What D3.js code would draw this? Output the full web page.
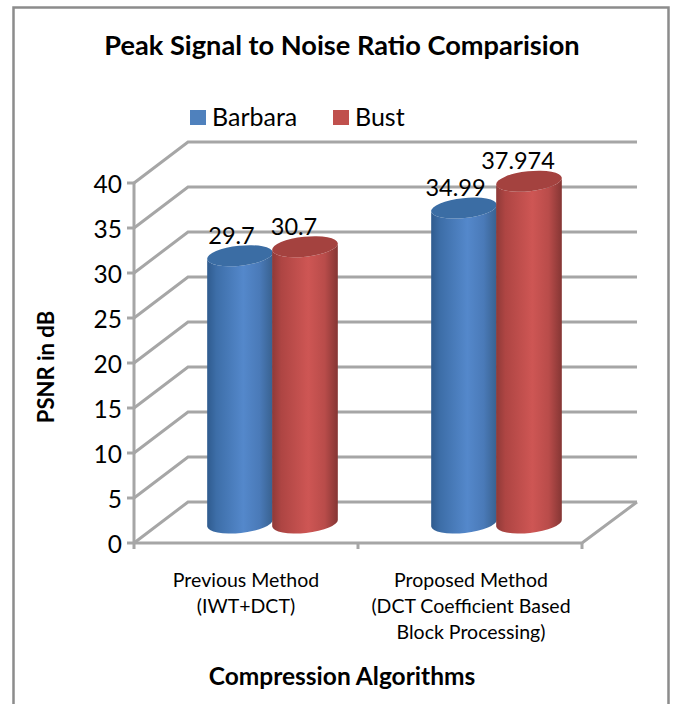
<!DOCTYPE html>
<html><head><meta charset="utf-8">
<script src="https://cdn.jsdelivr.net/npm/d3@7"></script>
<style>html,body{margin:0;padding:0;background:#fff}svg{display:block}text{font-family:Lato,sans-serif;fill:#000}</style>
</head><body><svg id="c" width="676" height="704"></svg>
<script>
const categories=[["Previous Method","(IWT+DCT)"],["Proposed Method","(DCT Coefficient Based","Block Processing)"]];
const seriesNames=["Barbara","Bust"];
const barbara=[29.7,34.99];
const bust=[30.7,37.974];
const barbaraLabels=["29.7","34.99"];
const bustLabels=["30.7","37.974"];
const yTicks=[0,5,10,15,20,25,30,35,40];
const title="Peak Signal to Noise Ratio Comparision";
const xTitle="Compression Algorithms";
const yTitle="PSNR in dB";

const svg=d3.select("#c");
const dx=54,dy=-41,grid="#a6a6a6";
const y=d3.scaleLinear().domain([0,40]).range([543,183]);
const x=d3.scaleBand().domain([0,1]).range([134,582]);
const inner=d3.scaleBand().domain([0,1]).range([0,130]);

const defs=svg.append("defs");
function grad(id,stops){
  const g=defs.append("linearGradient").attr("id",id).attr("x1",0).attr("x2",1).attr("y1",0).attr("y2",0);
  stops.forEach(s=>g.append("stop").attr("offset",s[0]).attr("stop-color",s[1]));
}
grad("gb",[[0,"#2f5b8e"],[.14,"#3d6ea8"],[.55,"#5488cb"],[.8,"#4a7ab8"],[1,"#38618f"]]);
grad("gr",[[0,"#8f3a38"],[.14,"#ae4543"],[.55,"#ce5654"],[.8,"#b94c4a"],[1,"#853634"]]);

// frame
svg.append("path").attr("d","M13.5,704V7.5H668.5V704").attr("fill","none").attr("stroke","#8c8c8c").attr("stroke-width",2.5);

// gridlines and side wall
const g=svg.append("g").attr("fill","none").attr("stroke",grid).attr("stroke-width",3);
yTicks.forEach(t=>{
  const p=d3.path();
  p.moveTo(134,y(t));p.lineTo(134+dx,y(t)+dy);p.lineTo(582+dx+1,y(t)+dy);
  g.append("path").attr("d",p.toString());
  g.append("line").attr("x1",127).attr("x2",134).attr("y1",y(t)).attr("y2",y(t));
});
// floor edge
g.append("path").attr("d",d3.line()([[x.range()[0],y(0)],[x.range()[1],y(0)],[x.range()[1]+dx+1,y(0)+dy]]));
// vertical axis
g.append("line").attr("x1",134).attr("x2",134).attr("y1",y(40)).attr("y2",y(0)+6);
[0,1].forEach(i=>g.append("line").attr("x1",x(i)+x.bandwidth()).attr("x2",x(i)+x.bandwidth()).attr("y1",y(0)).attr("y2",y(0)+6));

// y tick labels
svg.append("g").selectAll("text").data(yTicks).join("text")
  .attr("x",122).attr("y",d=>y(d)+10).attr("text-anchor","end").attr("font-size",24.5).text(d=>d);

// cylinders
const rx=33,ry=10,tilt=-6,baseY=523,dxC=dx/2;
function cyl(sel,cx,top,gid,topCol){
  const b=baseY;
  const rad=tilt*Math.PI/180;
  const ox=rx*Math.cos(rad),oy=rx*Math.sin(rad);
  const d=`M${cx-ox},${top-oy}L${cx-ox},${b-oy}A${rx},${ry} ${tilt} 0 0 ${cx+ox},${b+oy}L${cx+ox},${top+oy}A${rx},${ry} ${tilt} 0 1 ${cx-ox},${top-oy}Z`;
  sel.append("path").attr("d",d).attr("fill",`url(#${gid})`);
  sel.append("ellipse").attr("cx",cx).attr("cy",top).attr("rx",rx).attr("ry",ry)
    .attr("transform",`rotate(${tilt} ${cx} ${top})`).attr("fill",topCol);
}
const centerX=(i,s)=>x(i)+x.bandwidth()/2-65+inner(s)+inner.bandwidth()/2+dxC-0.5;
const bars=svg.append("g");
[barbara,bust].forEach((vals,s)=>{
  vals.forEach((v,i)=>{
    cyl(bars.append("g"),centerX(i,s),baseY-(y(0)-y(v)),s?"gr":"gb",s?"#a4423f":"#3b6da4");
  });
});

// data labels
const lab=svg.append("g").attr("font-size",23.5);
[[barbara,barbaraLabels],[bust,bustLabels]].forEach(([vals,ls],s)=>{
  vals.forEach((v,i)=>{
    lab.append("text").attr("x",centerX(i,s)-(s?11:8.5)).attr("y",baseY-(y(0)-y(v))-12).attr("text-anchor","middle").text(ls[i]);
  });
});

// titles
svg.append("text").attr("x",342).attr("y",55).attr("text-anchor","middle").attr("font-size",27.2).attr("font-weight",700).text(title);
svg.append("text").attr("x",342).attr("y",685).attr("text-anchor","middle").attr("font-size",24.5).attr("font-weight",700).text(xTitle);
svg.append("text").attr("transform","translate(54,367) rotate(-90)").attr("text-anchor","middle").attr("font-size",22).attr("font-weight",700).text(yTitle);

// legend
const legX=[190,333],legC=["#4f81bd","#c0504d"];
seriesNames.forEach((n,i)=>{
  svg.append("rect").attr("x",legX[i]).attr("y",110).attr("width",16).attr("height",15).attr("fill",legC[i]);
  svg.append("text").attr("x",legX[i]+22).attr("y",125.5).attr("font-size",25).text(n);
});

// category labels
categories.forEach((ls,i)=>{
  ls.forEach((t,j)=>{
    svg.append("text").attr("x",x(i)+x.bandwidth()/2+(i?1:0)).attr("y",587+j*26).attr("text-anchor","middle").attr("font-size",19.5).text(t);
  });
});
</script></body></html>
